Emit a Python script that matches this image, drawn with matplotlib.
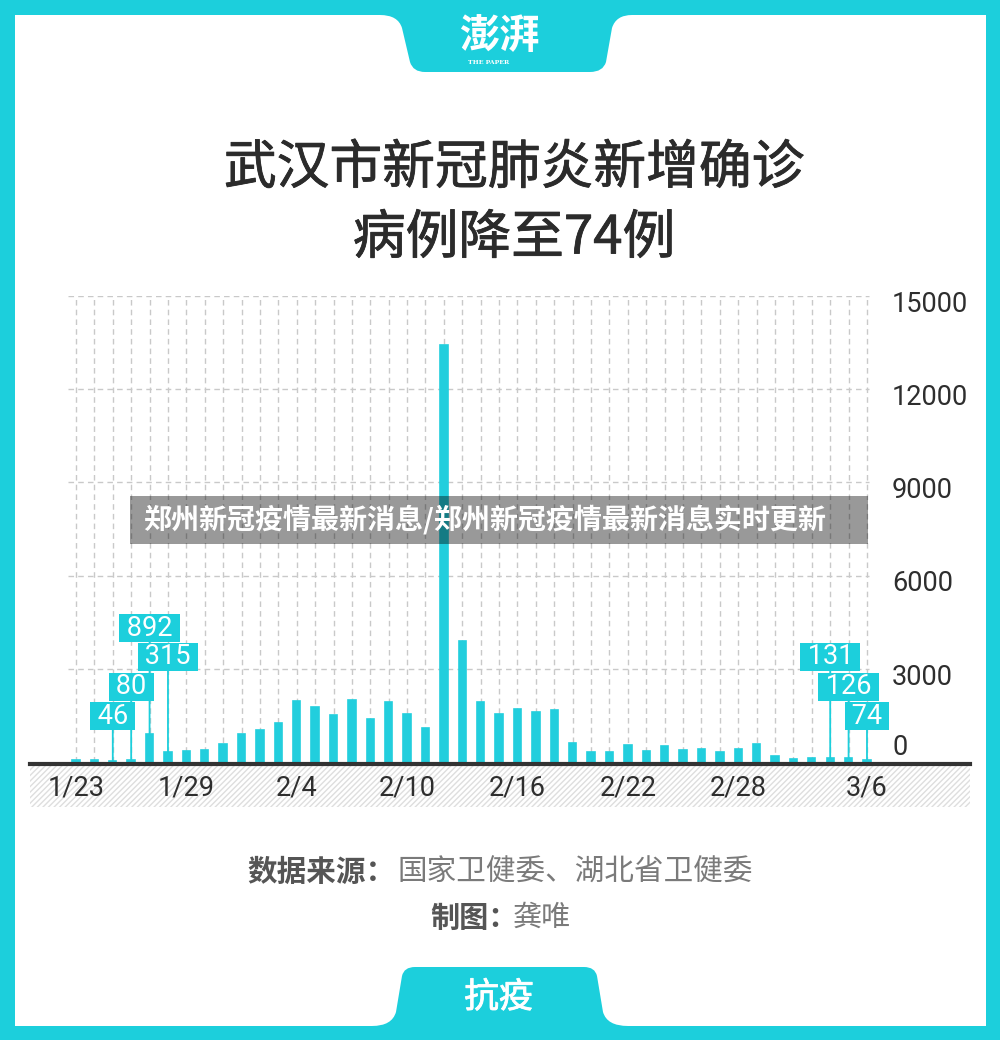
import numpy as np
import matplotlib
matplotlib.use("Agg")
import matplotlib.pyplot as plt
import matplotlib.patheffects as pe
from matplotlib.patches import Rectangle, PathPatch
from matplotlib.path import Path

# daily new confirmed cases in Wuhan, 1/23 .. 3/6
dates = ["1/23", "1/24", "1/25", "1/26", "1/27", "1/28", "1/29", "1/30", "1/31",
         "2/1", "2/2", "2/3", "2/4", "2/5", "2/6", "2/7", "2/8", "2/9", "2/10",
         "2/11", "2/12", "2/13", "2/14", "2/15", "2/16", "2/17", "2/18", "2/19",
         "2/20", "2/21", "2/22", "2/23", "2/24", "2/25", "2/26", "2/27", "2/28",
         "2/29", "3/1", "3/2", "3/3", "3/4", "3/5", "3/6"]
new_cases = [62, 70, 46, 80, 892, 315, 356, 378, 576,
             894, 1033, 1242, 1967, 1766, 1501, 1985, 1379, 1920, 1552,
             1104, 13436, 3910, 1923, 1548, 1690, 1600, 1660, 615,
             319, 314, 541, 348, 499, 401, 409, 318, 420,
             565, 193, 111, 114, 131, 126, 74]
tick_dates = ["1/23", "1/29", "2/4", "2/10", "2/16", "2/22", "2/28", "3/6"]
y_ticks = [0, 3000, 6000, 9000, 12000, 15000]
labelled_dates = ["1/25", "1/26", "1/27", "1/28", "3/4", "3/5", "3/6"]

title_lines = ["武汉市新冠肺炎新增确诊", "病例降至74例"]
banner_text = "郑州新冠疫情最新消息/郑州新冠疫情最新消息实时更新"

CYAN = "#1ccfdc"
BAR = "#22cedd"
DARK = "#333333"
GRID = "#c9c9c9"
CJK = ["Noto Sans CJK SC", "DejaVu Sans"]
NUM = ["Roboto", "DejaVu Sans"]

W, H = 1000, 1040


def fx(x):
    return x / W


def fy(y):
    return 1 - y / H


fig = plt.figure(figsize=(W / 100, H / 100), dpi=100, facecolor="white")

# ---- frame -------------------------------------------------------------
for x0, y0, x1, y1 in [(0, 0, W, 15), (0, 1026, W, H), (0, 0, 15, H), (986, 0, W, H)]:
    fig.patches.append(Rectangle((fx(x0), fy(y1)), fx(x1 - x0), (y1 - y0) / H,
                                 transform=fig.transFigure, fc=CYAN, ec="none", zorder=1))


def tab(points, codes):
    verts = [(fx(x), fy(y)) for x, y in points]
    return PathPatch(Path(verts, codes), transform=fig.transFigure, fc=CYAN, ec="none", zorder=1)


M, L, C3 = Path.MOVETO, Path.LINETO, Path.CURVE3
top_pts = [(380, 10), (380, 15), (398, 15), (402, 28), (410, 62), (413, 72), (425, 72),
           (590, 72), (603, 72), (606, 62), (612, 28), (616, 15), (632, 15), (632, 10), (380, 10)]
tab_codes = [M, L, C3, C3, L, C3, C3, L, C3, C3, L, C3, C3, L, L]
fig.patches.append(tab(top_pts, tab_codes))

bot_pts = [(372, 1030), (372, 1026), (392, 1026), (396, 1012), (402, 976), (404, 967), (415, 967),
           (584, 967), (595, 967), (597, 976), (603, 1012), (607, 1026), (628, 1026), (628, 1030),
           (372, 1030)]
fig.patches.append(tab(bot_pts, tab_codes))

fig.text(fx(499), fy(36), "澎湃", ha="center", va="center", color="white",
         fontsize=29, fontweight="bold", family=CJK)
fig.text(fx(489), fy(62), "THE PAPER", ha="center", va="center", color="white",
         fontsize=4.5, fontweight="bold", family=["DejaVu Serif"])
fig.text(fx(499), fy(998), "抗疫", ha="center", va="center", color="white",
         fontsize=25, family=CJK,
         path_effects=[pe.withStroke(linewidth=0.6, foreground="white")])

# ---- title ----------------------------------------------------------------
# regular weight thickened a little to get a medium look
title_fx = [pe.withStroke(linewidth=0.6, foreground="#2b2b2b")]
fig.text(fx(514), fy(168), title_lines[0], ha="center", va="center", color="#2b2b2b",
         fontsize=38, family=CJK, path_effects=title_fx)
fig.text(fx(514), fy(238), title_lines[1], ha="center", va="center", color="#2b2b2b",
         fontsize=38, family=CJK, path_effects=title_fx)

# ---- chart ----------------------------------------------------------------
ax = fig.add_axes([fx(30), fy(762), fx(940), 466 / H])
ax.set_zorder(2)
x = np.arange(len(dates))
ax.set_xlim(-2.5, 48.6)
ax.set_ylim(0, 15000)

ax.vlines(x, 0, 15000, colors=GRID, linestyles=(0, (4, 3)), linewidth=1, zorder=1)
ax.hlines(y_ticks[1:], -0.45, x[-1] + 0.1, colors=GRID, linestyles=(0, (4, 3)),
          linewidth=1, zorder=1)

ax.bar(x, new_cases, width=0.4, color=BAR, edgecolor=BAR, linewidth=1.2, zorder=3)

for s in ["top", "left", "right"]:
    ax.spines[s].set_visible(False)
ax.spines["bottom"].set_linewidth(3)
ax.spines["bottom"].set_color(DARK)
ax.spines["bottom"].set_position(("outward", 1.5))
ax.spines["bottom"].set_zorder(6)
ax.set_xticks([])
ax.set_yticks([])
ax.patch.set_alpha(0)

for d in tick_dates:
    i = dates.index(d)
    ax.annotate(d, xy=(i, 0), xytext=(0, -19), textcoords="offset points",
                ha="center", va="center", fontsize=19.5, color="#2e2e2e", family=NUM,
                annotation_clip=False)

for v in y_ticks:
    off = 10.5 if v == 0 else -6
    ax.annotate(str(v), xy=((892 - 30) / 940, v), xycoords=("axes fraction", "data"),
                xytext=(0, off), textcoords="offset points", ha="left", va="center",
                fontsize=19.5, color="#2e2e2e", family=NUM, annotation_clip=False)

# stacked callout boxes: the earliest highlighted day sits lowest
levels = [1480, 2420, 4310, 3380, 3380, 2420, 1480]
for d, lev in zip(labelled_dates, levels):
    i = dates.index(d)
    v = new_cases[i]
    ax.annotate(f" {v} ", xy=(i, v), xytext=(i, lev), textcoords="data",
                ha="center", va="center", fontsize=19.5, color="white", family=NUM,
                bbox=dict(boxstyle="square,pad=0.02", fc=CYAN, ec="none"),
                arrowprops=dict(arrowstyle="-", color=CYAN, lw=1.3, shrinkA=0, shrinkB=0),
                zorder=5, annotation_clip=False)

# hatched strip under the axis
plt.rcParams["hatch.linewidth"] = 1.0
fig.patches.append(Rectangle((fx(30), fy(807)), fx(940), 41 / H, transform=fig.transFigure,
                             fc="none", ec="#dedede", lw=0, hatch="//////", zorder=0.5))

# ---- source ---------------------------------------------------------------
fig.text(fx(247), fy(872), "数据来源：", ha="left", va="center", color="#555555",
         fontsize=21.3, fontweight="bold", family=CJK)
fig.text(fx(753), fy(872), "国家卫健委、湖北省卫健委", ha="right", va="center", color="#7a7a7a",
         fontsize=21.3, family=CJK)
fig.text(fx(430), fy(918), "制图：", ha="left", va="center", color="#555555",
         fontsize=21, fontweight="bold", family=CJK)
fig.text(fx(571), fy(918), "龚唯", ha="right", va="center", color="#7a7a7a",
         fontsize=21, family=CJK)

# ---- watermark banner -----------------------------------------------------
fig.patches.append(Rectangle((fx(130), fy(544)), fx(738), 48 / H, transform=fig.transFigure,
                             fc="black", alpha=0.4, ec="none", zorder=8))
fig.text(fx(143), fy(520), banner_text, ha="left", va="center", color="white",
         fontsize=20.2, fontweight="bold", family=CJK, zorder=9)

fig.savefig("out.png", dpi=100, facecolor="white")
